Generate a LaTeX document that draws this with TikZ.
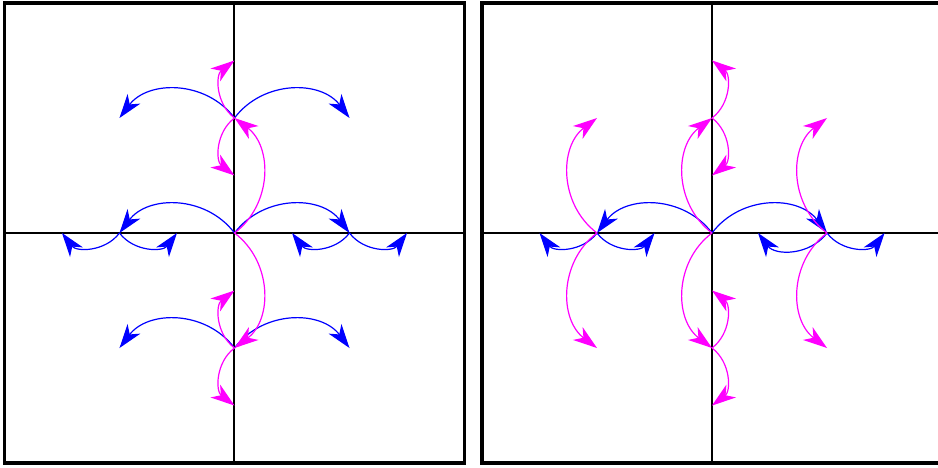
\documentclass[tikz,border=0pt]{standalone}
\usetikzlibrary{arrows.meta}
\definecolor{mag}{RGB}{255,0,255}
\definecolor{blu}{RGB}{0,0,255}
\begin{document}
\begin{tikzpicture}[x=115pt,y=115pt,
  bluarr/.style={draw=blu,line width=1.2pt,-{Stealth[length=24pt,width=16pt,inset=7pt,fill=blu]}},
  magarr/.style={draw=mag,line width=1.2pt,-{Stealth[length=24pt,width=16pt,inset=7pt,fill=mag]}},
  bl/.style={bend left=53,looseness=1.06},
  br/.style={bend right=53,looseness=1.06},
  frame/.style={draw=black,line width=3.6pt},
  axis/.style={draw=black,line width=2pt}]
\useasboundingbox (-2.039,-2.035) rectangle (6.117,2.026);
% ---------- left square ----------
\foreach \p/\x/\y in {O/0/0,W/-1/0,E/1/0,N/0/1,S/0/-1,WW/-1.5/0,WE/-0.5/0,EW/0.5/0,EE/1.5/0,
  NW/-1/1,NE/1/1,SW/-1/-1,SE/1/-1,NN/0/1.5,NS/0/0.5,SN/0/-0.5,SS/0/-1.5,
  AL/-2/0,AR/2/0,AT/0/2,AB/0/-2,C1/-2/-2,C2/2/2}
  \coordinate (L\p) at (\x,\y);
\draw[frame] (LC1) rectangle (LC2);
\draw[axis] (LAL) -- (LAR);
\draw[axis] (LAB) -- (LAT);
\draw[bluarr] (LO) to[br] (LW);
\draw[bluarr] (LO) to[bl] (LE);
\draw[bluarr] (LW) to[bl] (LWW);
\draw[bluarr] (LW) to[br] (LWE);
\draw[bluarr] (LE) to[bl] (LEW);
\draw[bluarr] (LE) to[br] (LEE);
\draw[bluarr] (LN) to[br] (LNW);
\draw[bluarr] (LN) to[bl] (LNE);
\draw[bluarr] (LS) to[br] (LSW);
\draw[bluarr] (LS) to[bl] (LSE);
\draw[magarr] (LO) to[br] (LN);
\draw[magarr] (LO) to[bl] (LS);
\draw[magarr] (LN) to[bl] (LNN);
\draw[magarr] (LN) to[br] (LNS);
\draw[magarr] (LS) to[bl] (LSN);
\draw[magarr] (LS) to[br] (LSS);
% ---------- right square ----------
\begin{scope}[shift={(4.152,0)}]
\foreach \p/\x/\y in {O/0/0,W/-1/0,E/1/0,N/0/1,S/0/-1,WW/-1.5/0,WE/-0.5/0,EW/0.4/0,EE/1.5/0,
  NW/-1/1,NE/1/1,SW/-1/-1,SE/1/-1,NN/0/1.5,NS/0/0.5,SN/0/-0.5,SS/0/-1.5,
  AL/-2/0,AR/2/0,AT/0/2,AB/0/-2,C1/-2/-2,C2/2/2}
  \coordinate (R\p) at (\x,\y);
\end{scope}
\draw[frame] (RC1) rectangle (RC2);
\draw[axis] (RAL) -- (RAR);
\draw[axis] (RAB) -- (RAT);
\draw[bluarr] (RO) to[br] (RW);
\draw[bluarr] (RO) to[bl] (RE);
\draw[bluarr] (RW) to[bl] (RWW);
\draw[bluarr] (RW) to[br] (RWE);
\draw[bluarr] (RE) to[bl] (REW);
\draw[bluarr] (RE) to[br] (REE);
\draw[magarr] (RW) to[bl] (RNW);
\draw[magarr] (RW) to[br] (RSW);
\draw[magarr] (RE) to[bl] (RNE);
\draw[magarr] (RE) to[br] (RSE);
\draw[magarr] (RO) to[bl] (RN);
\draw[magarr] (RO) to[br] (RS);
\draw[magarr] (RN) to[br] (RNN);
\draw[magarr] (RN) to[bl] (RNS);
\draw[magarr] (RS) to[br] (RSN);
\draw[magarr] (RS) to[bl] (RSS);
\end{tikzpicture}
\end{document}
